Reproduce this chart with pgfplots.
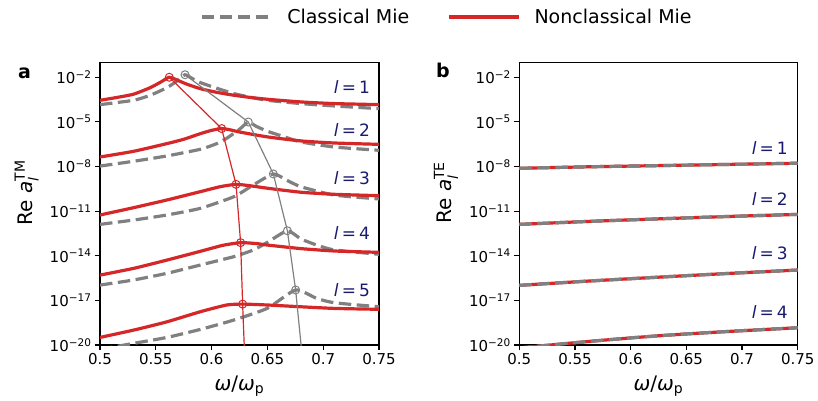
\documentclass[border=0pt]{standalone}
\usepackage{fontspec}
\setmainfont{DejaVu Sans}
\usepackage{amsmath}
\usepackage{pgfplots}
\usepackage{pgfplotstable}
\pgfplotsset{compat=1.18}

\definecolor{mred}{RGB}{214,39,40}
\definecolor{mgray}{RGB}{128,128,128}
\definecolor{lblue}{RGB}{25,25,112}

% ---- panel a: log10 of Re a_l^TM ----
\pgfplotstableread{
x lg
0.500 -3.55
0.515 -3.36
0.530 -3.14
0.545 -2.70
0.555 -2.30
0.5621 -2.00
0.570 -2.22
0.578 -2.47
0.590 -2.77
0.605 -3.02
0.620 -3.21
0.635 -3.36
0.650 -3.48
0.680 -3.66
0.710 -3.77
0.750 -3.84
}\nla
\pgfplotstableread{
x lg
0.500 -3.84
0.530 -3.55
0.545 -3.21
0.560 -2.70
0.569 -2.25
0.5762 -1.83
0.583 -2.10
0.590 -2.36
0.605 -2.75
0.620 -3.10
0.635 -3.35
0.650 -3.55
0.680 -3.77
0.710 -3.93
0.750 -4.11
}\cla
\pgfplotstableread{
x lg
0.500 -7.36
0.530 -6.98
0.560 -6.46
0.575 -6.17
0.590 -5.79
0.600 -5.57
0.609 -5.45
0.617 -5.54
0.625 -5.68
0.650 -6.01
0.680 -6.28
0.710 -6.42
0.750 -6.51
}\nlb
\pgfplotstableread{
x lg
0.500 -7.97
0.530 -7.65
0.560 -7.29
0.590 -6.84
0.605 -6.45
0.614 -6.08
0.625 -5.50
0.6329 -5.01
0.640 -5.30
0.650 -5.63
0.665 -6.00
0.680 -6.35
0.710 -6.69
0.750 -6.91
}\clb
\pgfplotstableread{
x lg
0.500 -11.26
0.530 -10.77
0.560 -10.25
0.590 -9.69
0.6075 -9.36
0.6219 -9.20
0.635 -9.30
0.650 -9.46
0.680 -9.73
0.710 -9.87
0.750 -9.96
}\nlc
\pgfplotstableread{
x lg
0.500 -11.89
0.530 -11.60
0.560 -11.26
0.590 -10.81
0.620 -10.03
0.6374 -9.24
0.6553 -8.50
0.667 -8.91
0.680 -9.36
0.710 -9.92
0.750 -10.18
}\clc
\pgfplotstableread{
x lg
0.500 -15.30
0.530 -14.85
0.560 -14.29
0.590 -13.70
0.610 -13.30
0.626 -13.12
0.640 -13.18
0.650 -13.28
0.680 -13.52
0.710 -13.68
0.750 -13.77
}\nld
\pgfplotstableread{
x lg
0.500 -15.97
0.530 -15.63
0.560 -15.18
0.590 -14.62
0.620 -14.06
0.6374 -13.61
0.650 -13.10
0.6679 -12.32
0.680 -12.87
0.695 -13.30
0.710 -13.61
0.750 -13.90
}\cld
\pgfplotstableread{
x lg
0.500 -19.49
0.530 -19.00
0.560 -18.44
0.590 -17.76
0.6135 -17.31
0.6278 -17.25
0.650 -17.31
0.680 -17.43
0.710 -17.54
0.750 -17.60
}\nle
\pgfplotstableread{
x lg
0.500 -20.30
0.530 -19.89
0.560 -19.49
0.590 -18.95
0.620 -18.32
0.650 -17.53
0.6753 -16.30
0.694 -16.86
0.710 -17.16
0.750 -17.43
}\cle
% resonance positions
\pgfplotstableread{
x lg
0.5621 -2.00
0.6090 -5.45
0.6219 -9.20
0.6260 -13.12
0.6278 -17.25
0.6300 -21.50
}\npk
\pgfplotstableread{
x lg
0.5762 -1.83
0.6329 -5.01
0.6553 -8.50
0.6679 -12.32
0.6753 -16.30
0.6815 -21.00
}\cpk

% ---- panel b: log10 of Re a_l^TE ----
\pgfplotstableread{
x lg
0.500 -8.12
0.5625 -8.02
0.625 -7.94
0.6875 -7.86
0.750 -7.78
}\tea
\pgfplotstableread{
x lg
0.500 -11.89
0.5625 -11.69
0.625 -11.52
0.6875 -11.36
0.750 -11.22
}\teb
\pgfplotstableread{
x lg
0.500 -15.99
0.5625 -15.70
0.625 -15.44
0.6875 -15.19
0.750 -14.96
}\tec
\pgfplotstableread{
x lg
0.500 -20.20
0.5625 -19.76
0.625 -19.38
0.6875 -19.09
0.750 -18.84
}\ted

\tikzset{
  clsty/.style={draw=mgray, line width=3.2bp, dash pattern=on 12.5bp off 5.5bp},
  ncsty/.style={draw=mred, line width=3.2bp},
  labsty/.style={anchor=east, inner sep=0pt, text=lblue, font=\fontsize{17bp}{20bp}\selectfont},
}
\newcommand{\lord}[1]{\textit{l}\hspace{0.18em}=\hspace{0.18em}#1}

\begin{document}
\begin{tikzpicture}
\useasboundingbox (0,0) rectangle (818bp,-401bp);

\begin{axis}[
    scale only axis, width=279bp, height=282.3bp,
    at={(100bp,-345bp)}, anchor=south west,
    xmin=0.5, xmax=0.75,
    ymode=log, ymin=1e-20, ymax=0.095,
    xtick={0.5,0.55,0.6,0.65,0.7,0.75},
    xticklabels={0.5,0.55,0.6,0.65,0.7,0.75},
    ytick={1e-20,1e-17,1e-14,1e-11,1e-8,1e-5,1e-2},
    yticklabels={10\textsuperscript{−20},10\textsuperscript{−17},10\textsuperscript{−14},10\textsuperscript{−11},10\textsuperscript{−8},10\textsuperscript{−5},10\textsuperscript{−2}},
    yminorticks=false, xminorticks=false,
    tick align=outside, major tick length=5bp,
    xtick pos=bottom, ytick pos=left,
    axis line style={line width=1.1bp},
    every tick/.style={black, line width=1.1bp},
    tick label style={font=\fontsize{15bp}{18bp}\selectfont},
    xlabel={\textit{ω}/\textit{ω}$_{\text{p}}$},
    xlabel style={font=\fontsize{20bp}{24bp}\selectfont, at={(axis description cs:0.5,0)}, anchor=base, yshift=-45bp},
    ylabel={Re \textit{a}$^{\text{TM}}_{\textit{l}}$},
    ylabel style={font=\fontsize{20bp}{24bp}\selectfont, at={(axis description cs:-0.263,0.54)}, anchor=center},
    legend columns=2,
    legend image code/.code={\draw[#1] (0bp,0bp) -- (70bp,0bp);},
    legend style={at={(axis description cs:0.358,1.162)}, anchor=west,
      draw=none, fill=none, inner sep=0pt,
      font=\fontsize{19bp}{23bp}\selectfont,
      nodes={inner sep=0pt},
      /tikz/every odd column/.append style={column sep=14bp},
      /tikz/every even column/.append style={column sep=38bp}},
]
\addlegendimage{clsty}
\addlegendentry{Classical Mie}
\addlegendimage{ncsty}
\addlegendentry{Nonclassical Mie}

\addplot[clsty, smooth, tension=0.35, forget plot] table[x=x, y expr=10^(\thisrow{lg})] {\cla};
\addplot[clsty, smooth, tension=0.35, forget plot] table[x=x, y expr=10^(\thisrow{lg})] {\clb};
\addplot[clsty, smooth, tension=0.35, forget plot] table[x=x, y expr=10^(\thisrow{lg})] {\clc};
\addplot[clsty, smooth, tension=0.35, forget plot] table[x=x, y expr=10^(\thisrow{lg})] {\cld};
\addplot[clsty, smooth, tension=0.35, forget plot] table[x=x, y expr=10^(\thisrow{lg})] {\cle};
\addplot[ncsty, smooth, tension=0.35, forget plot] table[x=x, y expr=10^(\thisrow{lg})] {\nla};
\addplot[ncsty, smooth, tension=0.35, forget plot] table[x=x, y expr=10^(\thisrow{lg})] {\nlb};
\addplot[ncsty, smooth, tension=0.35, forget plot] table[x=x, y expr=10^(\thisrow{lg})] {\nlc};
\addplot[ncsty, smooth, tension=0.35, forget plot] table[x=x, y expr=10^(\thisrow{lg})] {\nld};
\addplot[ncsty, smooth, tension=0.35, forget plot] table[x=x, y expr=10^(\thisrow{lg})] {\nle};

\addplot[draw=mgray, line width=1.2bp, forget plot] table[x=x, y expr=10^(\thisrow{lg})] {\cpk};
\addplot[draw=mred, line width=1.2bp, forget plot] table[x=x, y expr=10^(\thisrow{lg})] {\npk};
\addplot[only marks, mark=o, mark size=4bp, draw=mgray, mark options={line width=1bp},
  skip coords between index={5}{6}, forget plot] table[x=x, y expr=10^(\thisrow{lg})] {\cpk};
\addplot[only marks, mark=o, mark size=4bp, draw=mred, mark options={line width=1bp},
  skip coords between index={5}{6}, forget plot] table[x=x, y expr=10^(\thisrow{lg})] {\npk};

\node[labsty] at (axis cs:0.742,2.24e-3) {\lord{1}};
\node[labsty] at (axis cs:0.742,2.88e-6) {\lord{2}};
\node[labsty] at (axis cs:0.742,1.70e-9) {\lord{3}};
\node[labsty] at (axis cs:0.742,3.39e-13) {\lord{4}};
\node[labsty] at (axis cs:0.742,5.01e-17) {\lord{5}};
\end{axis}

\begin{axis}[
    scale only axis, width=278.4bp, height=282.3bp,
    at={(519.3bp,-345bp)}, anchor=south west,
    xmin=0.5, xmax=0.75,
    ymode=log, ymin=1e-20, ymax=0.095,
    xtick={0.5,0.55,0.6,0.65,0.7,0.75},
    xticklabels={0.5,0.55,0.6,0.65,0.7,0.75},
    ytick={1e-20,1e-17,1e-14,1e-11,1e-8,1e-5,1e-2},
    yticklabels={10\textsuperscript{−20},10\textsuperscript{−17},10\textsuperscript{−14},10\textsuperscript{−11},10\textsuperscript{−8},10\textsuperscript{−5},10\textsuperscript{−2}},
    yminorticks=false, xminorticks=false,
    tick align=outside, major tick length=5bp,
    xtick pos=bottom, ytick pos=left,
    axis line style={line width=1.1bp},
    every tick/.style={black, line width=1.1bp},
    tick label style={font=\fontsize{15bp}{18bp}\selectfont},
    xlabel={\textit{ω}/\textit{ω}$_{\text{p}}$},
    xlabel style={font=\fontsize{20bp}{24bp}\selectfont, at={(axis description cs:0.5,0)}, anchor=base, yshift=-45bp},
    ylabel={Re \textit{a}$^{\text{TE}}_{\textit{l}}$},
    ylabel style={font=\fontsize{20bp}{24bp}\selectfont, at={(axis description cs:-0.263,0.54)}, anchor=center},
]
\addplot[ncsty, smooth] table[x=x, y expr=10^(\thisrow{lg})] {\tea};
\addplot[ncsty, smooth] table[x=x, y expr=10^(\thisrow{lg})] {\teb};
\addplot[ncsty, smooth] table[x=x, y expr=10^(\thisrow{lg})] {\tec};
\addplot[ncsty, smooth] table[x=x, y expr=10^(\thisrow{lg})] {\ted};
\addplot[clsty, smooth] table[x=x, y expr=10^(\thisrow{lg})] {\tea};
\addplot[clsty, smooth] table[x=x, y expr=10^(\thisrow{lg})] {\teb};
\addplot[clsty, smooth] table[x=x, y expr=10^(\thisrow{lg})] {\tec};
\addplot[clsty, smooth] table[x=x, y expr=10^(\thisrow{lg})] {\ted};

\node[labsty] at (axis cs:0.7413,1.86e-7) {\lord{1}};
\node[labsty] at (axis cs:0.7413,6.61e-11) {\lord{2}};
\node[labsty] at (axis cs:0.7413,1.45e-14) {\lord{3}};
\node[labsty] at (axis cs:0.7413,1.58e-18) {\lord{4}};
\end{axis}

\node[font=\bfseries\fontsize{19bp}{23bp}\selectfont, anchor=base west, inner sep=0pt] at (18bp,-78bp) {a};
\node[font=\bfseries\fontsize{19bp}{23bp}\selectfont, anchor=base west, inner sep=0pt] at (436bp,-77bp) {b};
\end{tikzpicture}
\end{document}
